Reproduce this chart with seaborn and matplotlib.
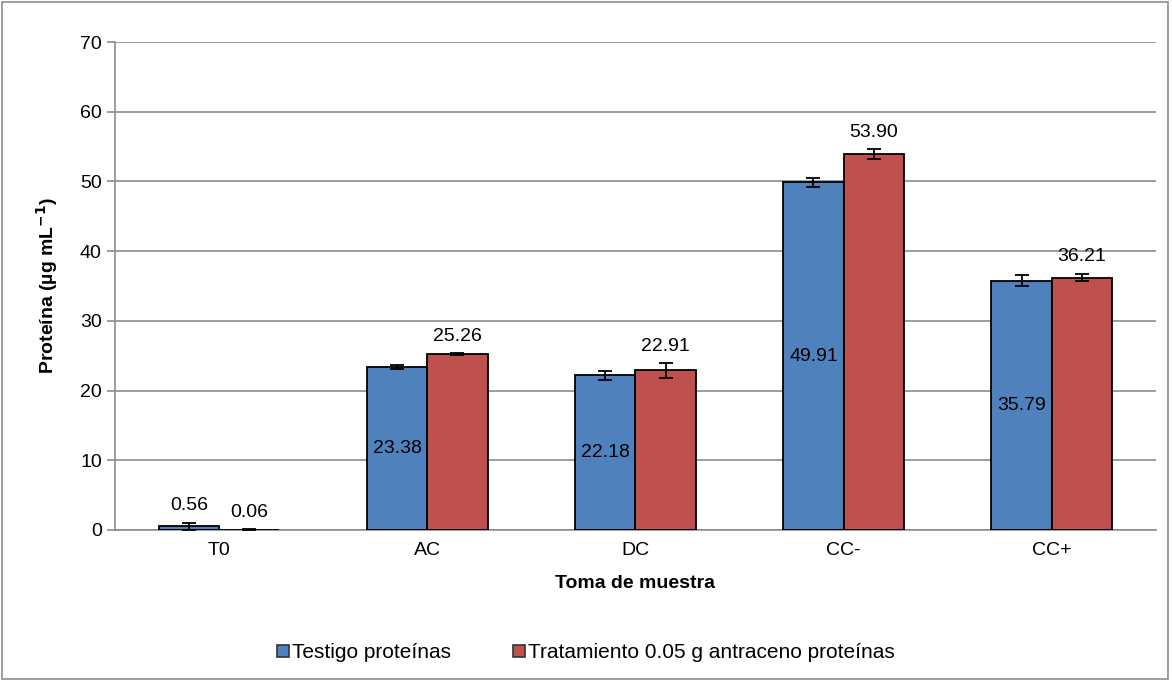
import pandas as pd
import numpy as np
import matplotlib
matplotlib.use('Agg')
import matplotlib.pyplot as plt
import seaborn as sns

# Data
muestras = ['T0', 'AC', 'DC', 'CC-', 'CC+']
series = ['Testigo proteínas', 'Tratamiento 0.05 g antraceno proteínas']
testigo = [0.56, 23.38, 22.18, 49.91, 35.79]
tratamiento = [0.06, 25.26, 22.91, 53.90, 36.21]
err_testigo = [0.5, 0.35, 0.65, 0.65, 0.75]
err_tratamiento = [0.05, 0.12, 1.05, 0.7, 0.55]

df = pd.DataFrame({
    'Toma': muestras * 2,
    'Serie': [series[0]] * 5 + [series[1]] * 5,
    'Proteina': testigo + tratamiento,
})

sns.set_style('white')
plt.rcParams['font.family'] = ['Liberation Sans', 'DejaVu Sans']
plt.rcParams['text.color'] = 'black'
plt.rcParams['axes.labelcolor'] = 'black'
plt.rcParams['xtick.labelcolor'] = 'black'
plt.rcParams['ytick.labelcolor'] = 'black'

fs = 14

fig = plt.figure(figsize=(11.72, 6.8), dpi=100)
ax = fig.add_axes([0.0981, 0.2206, 0.8882, 0.7176])

colors = ['#4F81BD', '#C0504D']
sns.barplot(data=df, x='Toma', y='Proteina', hue='Serie', order=muestras,
            hue_order=series, palette=colors, errorbar=None, width=0.58,
            edgecolor='black', linewidth=1.3, saturation=1, ax=ax, zorder=3)

# Error bars and labels from bar positions
for cont, vals, errs, inside in zip(ax.containers, [testigo, tratamiento],
                                    [err_testigo, err_tratamiento], [True, False]):
    xs = [b.get_x() + b.get_width() / 2 for b in cont]
    ax.errorbar(xs, vals, yerr=errs, fmt='none', ecolor='black',
                elinewidth=1.3, capsize=5, capthick=1.3, zorder=4)
    for x, v, e in zip(xs, vals, errs):
        if inside and v > 5:
            ax.text(x, v / 2, f'{v:.2f}', ha='center', va='center', fontsize=fs)
        else:
            ax.text(x, v + e + 1.2, f'{v:.2f}', ha='center', va='bottom', fontsize=fs)

ax.set_ylim(0, 70)
ax.set_xlim(-0.5, 4.5)
ax.set_yticks(range(0, 71, 10))
ax.yaxis.grid(True, color='#8c8c8c', linewidth=1.2, zorder=0)
ax.set_axisbelow(True)
for s in ['top', 'right']:
    ax.spines[s].set_visible(False)
ax.spines['left'].set_color('#8c8c8c')
ax.spines['bottom'].set_color('#8c8c8c')
ax.spines['left'].set_linewidth(1.2)
ax.spines['bottom'].set_linewidth(1.2)

# Excel-like tick marks at category boundaries
ax.set_xticks(range(5))
ax.set_xticklabels(muestras, fontsize=fs)
ax.set_xticks(np.arange(-0.5, 5.0, 1.0), minor=True)
ax.tick_params(axis='x', which='major', length=0, pad=9)
ax.tick_params(axis='x', which='minor', length=6, color='#8c8c8c', width=1.2, direction='out')
ax.tick_params(axis='y', length=6, color='#8c8c8c', width=1.2, direction='out',
               labelsize=fs, left=True)

ax.set_xlabel('Toma de muestra', fontsize=fs, fontweight='bold', labelpad=11)
ax.set_ylabel('Proteína (µg mL$^{\\mathbf{-1}}$)', fontsize=fs, fontweight='bold', labelpad=14)

ax.get_legend().remove()
handles = [plt.Rectangle((0, 0), 1, 1, facecolor=c, edgecolor='#333333', linewidth=1.2) for c in colors]
fig.legend(handles, series, loc='center', bbox_to_anchor=(0.5, 0.04), ncol=2,
           frameon=False, fontsize=15, handlelength=0.55, handleheight=0.55,
           handletextpad=0.15, columnspacing=3.0)

# Outer chart border
fig.patches.append(plt.Rectangle((0.002, 0.002), 0.995, 0.995, transform=fig.transFigure,
                                 fill=False, edgecolor='#8c8c8c', linewidth=1.2))

fig.savefig('out.png', dpi=100)
